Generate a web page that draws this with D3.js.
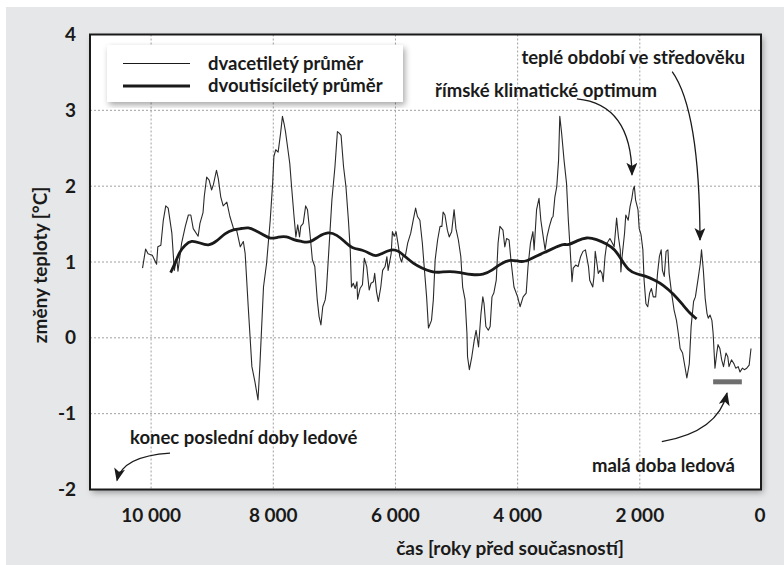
<!DOCTYPE html>
<html>
<head>
<meta charset="utf-8">
<script src="https://cdn.jsdelivr.net/npm/d3@7"></script>
<style>
body { margin: 0; background: #fff; }
text { font-family: Lato, "Open Sans", sans-serif; font-weight: 700; fill: #1a1a1a; }
</style>
</head>
<body>
<script>
// 20-year average (years before present, deg C)
var years20 = [10140,10090,10050,9980,9910,9890,9840,9800,9760,9720,9660,9620,9580,9560,9500,9440,9390,9350,9310,9230,
  9200,9150,9130,9090,9050,9010,8980,8930,8900,8860,8820,8760,8710,8650,8600,8540,8490,8460,8410,8350,
  8300,8250,8220,8160,8110,8050,8010,7990,7960,7920,7880,7850,7820,7800,7760,7730,7700,7660,7630,7600,
  7570,7550,7510,7470,7440,7400,7360,7320,7280,7250,7220,7190,7150,7130,7090,7040,6990,6950,6920,6890,
  6850,6810,6770,6740,6720,6690,6660,6630,6620,6580,6540,6510,6470,6430,6400,6360,6340,6310,6280,6240,
  6210,6170,6140,6120,6070,6050,6020,5990,5950,5930,5900,5870,5840,5800,5750,5710,5670,5640,5600,5560,
  5530,5490,5460,5410,5380,5350,5310,5270,5240,5220,5190,5150,5120,5080,5040,5010,4970,4930,4900,4860,
  4830,4820,4790,4750,4710,4680,4640,4600,4570,4550,4520,4480,4450,4420,4390,4350,4320,4290,4240,4210,
  4180,4140,4110,4060,4000,3960,3910,3860,3830,3790,3750,3730,3690,3650,3620,3590,3550,3520,3480,3440,
  3420,3390,3360,3330,3310,3280,3240,3200,3170,3140,3110,3090,3050,3010,2970,2930,2890,2840,2820,2770,
  2750,2730,2710,2680,2650,2620,2600,2570,2540,2520,2490,2450,2420,2380,2350,2320,2310,2290,2250,2230,
  2190,2160,2130,2110,2090,2070,2030,2010,1980,1950,1930,1900,1870,1840,1810,1780,1740,1710,1680,1650,
  1630,1600,1570,1540,1520,1480,1440,1400,1370,1340,1300,1270,1230,1190,1160,1120,1090,1040,1010,990,
  960,930,900,880,850,820,800,770,740,720,690,660,630,590,560,540,500,460,430,390,
  360,320,290,250,210,180];
var temp20 = [0.92,1.17,1.11,1.09,0.97,1.20,1.22,1.55,1.74,1.71,1.38,0.89,1.05,0.88,1.25,1.47,1.62,1.62,1.44,1.34,
  1.51,1.65,1.86,2.12,2.08,1.95,2.02,2.21,2.10,1.86,1.74,1.79,1.60,1.44,1.42,1.20,1.27,1.11,0.41,-0.38,
  -0.58,-0.82,-0.38,0.67,0.98,1.55,2.04,2.39,2.48,2.45,2.70,2.92,2.81,2.72,2.48,2.30,1.99,1.60,1.33,1.49,
  1.33,1.47,1.51,1.74,1.69,1.38,1.03,0.94,0.50,0.28,0.17,0.41,0.50,0.63,1.16,1.82,2.26,2.72,2.70,2.67,
  2.26,1.99,1.55,1.16,0.67,0.72,0.65,0.74,0.51,0.65,0.70,1.05,0.94,0.63,0.72,0.74,0.85,0.61,0.48,0.67,
  0.89,0.94,1.07,0.89,1.11,1.40,1.34,1.40,1.20,1.07,1.00,1.09,1.07,1.25,1.38,1.55,1.71,1.60,1.55,1.25,
  0.94,0.54,0.13,0.23,0.50,1.03,1.29,1.47,1.47,1.66,1.62,1.42,1.33,1.40,1.69,1.44,1.29,1.07,0.67,0.50,
  0.06,-0.25,-0.42,-0.25,-0.03,0.10,-0.12,0.32,0.54,0.45,0.15,0.10,0.15,0.54,0.59,0.76,1.25,1.47,1.42,1.20,
  1.31,1.29,1.03,0.67,0.54,0.41,0.54,0.59,0.94,1.25,1.40,1.16,1.69,1.84,1.55,1.38,1.16,1.33,1.47,1.58,
  1.60,1.86,1.99,2.34,2.92,2.70,2.34,2.04,1.55,1.16,0.74,0.92,0.96,0.94,1.07,1.14,1.16,0.94,0.76,0.67,
  0.81,1.14,1.03,0.85,0.89,0.85,0.74,1.07,1.25,1.27,1.31,1.25,1.20,1.58,1.33,1.16,0.87,1.07,1.38,1.62,
  1.55,1.73,1.84,1.95,2.00,1.82,1.69,1.44,1.36,1.16,0.76,0.45,0.41,0.59,0.65,0.54,0.54,0.85,1.07,1.16,
  0.89,0.81,1.14,1.16,0.85,0.59,0.37,0.23,0.06,-0.14,-0.20,-0.34,-0.53,-0.34,0.15,0.48,0.54,0.81,0.98,1.16,
  0.89,0.52,0.32,0.26,0.30,0.23,0.06,-0.40,-0.20,-0.09,-0.14,-0.29,-0.38,-0.20,-0.25,-0.38,-0.29,-0.34,-0.40,-0.38,
  -0.45,-0.40,-0.42,-0.40,-0.36,-0.14];

// 2000-year average
var years2000 = [9680,9610,9530,9450,9340,9200,9060,8930,8790,8650,8520,8410,8300,8160,8050,7920,7780,7670,7530,7400,
  7260,7100,6960,6830,6720,6530,6420,6320,6230,6070,5950,5840,5710,5570,5410,5300,5110,4940,4750,4560,
  4420,4290,4120,3960,3850,3690,3520,3360,3250,3170,3030,2870,2710,2540,2410,2300,2190,2050,1920,1750,
  1620,1450,1310,1180,1070];
var temp2000 = [0.86,0.98,1.14,1.22,1.29,1.25,1.21,1.27,1.38,1.43,1.44,1.46,1.42,1.36,1.30,1.33,1.34,1.29,1.27,1.25,
  1.34,1.40,1.36,1.27,1.18,1.16,1.11,1.07,1.11,1.17,1.15,1.07,0.98,0.92,0.87,0.86,0.88,0.86,0.83,0.83,
  0.89,0.97,1.04,1.00,1.01,1.08,1.14,1.20,1.24,1.22,1.28,1.33,1.30,1.24,1.17,1.03,0.89,0.84,0.82,0.76,
  0.70,0.58,0.45,0.32,0.25];

// little ice age bar
var iceAgeSpan = [800, 330];
var iceAgeLevel = -0.58;

var xTicks = [10000, 8000, 6000, 4000, 2000, 0];
var yTicks = [-2, -1, 0, 1, 2, 3, 4];

var seriesNames = ['dvacetiletý průměr', 'dvoutisíciletý průměr'];

// annotations: text + arrow (start, control, tip) in data units
var notes = [
  { text: 'teplé období ve středověku', tx: 745, ty: 64, anchor: 'end', arrow: [[1470, 3.51], [1020, 3.0], [1015, 1.29]] },
  { text: 'římské klimatické optimum', tx: 657, ty: 97, anchor: 'end', arrow: [[3030, 3.15], [2140, 3.08], [2128, 2.15]] },
  { text: 'konec poslední doby ledové', tx: 130, ty: 444, anchor: 'start', arrow: [[9690, -1.52], [10470, -1.56], [10558, -1.88]] },
  { text: 'malá doba ledová', tx: 735, ty: 472, anchor: 'end', arrow: [[1640, -1.37], [720, -1.24], [573, -0.73]] }
];

var width = 784, height = 565;
var svg = d3.select('body').append('svg').attr('width', width).attr('height', height);

var defs = svg.append('defs');
var shadow = defs.append('filter').attr('id', 'shadow').attr('x', '-5%').attr('y', '-5%').attr('width', '115%').attr('height', '115%');
shadow.append('feDropShadow').attr('dx', 2).attr('dy', 3).attr('stdDeviation', 3)
    .attr('flood-color', '#000').attr('flood-opacity', 0.35);
defs.append('marker')
    .attr('id', 'head')
    .attr('viewBox', '0 0 12 10')
    .attr('markerUnits', 'userSpaceOnUse')
    .attr('markerWidth', 15)
    .attr('markerHeight', 11)
    .attr('refX', 11)
    .attr('refY', 5)
    .attr('orient', 'auto')
    .append('path')
    .attr('d', 'M0,0 L12,5 L0,10 L3,5 Z')
    .attr('fill', '#1a1a1a');

svg.append('rect').attr('x', 6).attr('y', 7).attr('width', width - 6).attr('height', height - 7).attr('fill', '#e6e7e8');

var x = d3.scaleLinear().domain([11000, 0]).range([90, 762]);
var y = d3.scaleLinear().domain([-2, 4]).range([489.5, 34.5]);

svg.append('rect')
    .attr('x', x(11000)).attr('y', y(4))
    .attr('width', 761 - x(11000)).attr('height', y(-2) - y(4))
    .attr('fill', '#fff')
    .attr('filter', 'url(#shadow)');

// grid
svg.append('g').selectAll('line')
    .data(xTicks.filter(function(d) { return d > 0; }))
    .enter().append('line')
    .attr('x1', function(d) { return x(d); }).attr('x2', function(d) { return x(d); })
    .attr('y1', y(4)).attr('y2', y(-2))
    .attr('stroke', '#a0a0a0').attr('stroke-width', 1).attr('stroke-dasharray', '2,2');
svg.append('g').selectAll('line')
    .data(yTicks.filter(function(d) { return d > -2 && d < 4; }))
    .enter().append('line')
    .attr('x1', x(11000)).attr('x2', 761)
    .attr('y1', function(d) { return y(d); }).attr('y2', function(d) { return y(d); })
    .attr('stroke', '#a0a0a0').attr('stroke-width', 1).attr('stroke-dasharray', '2,2');

// data lines
var d20 = years20.map(function(v, i) { return [v, temp20[i]]; });
var d2000 = years2000.map(function(v, i) { return [v, temp2000[i]]; });
var line = d3.line().x(function(d) { return x(d[0]); }).y(function(d) { return y(d[1]); });

svg.append('path').datum(d20)
    .attr('d', line)
    .attr('fill', 'none').attr('stroke', '#2a2a2a').attr('stroke-width', 1.1).attr('stroke-linejoin', 'round');
svg.append('path').datum(d2000)
    .attr('d', line.curve(d3.curveBasis))
    .attr('fill', 'none').attr('stroke', '#1a1a1a').attr('stroke-width', 2.8).attr('stroke-linecap', 'butt');

svg.append('line')
    .attr('x1', x(iceAgeSpan[0])).attr('x2', x(iceAgeSpan[1]))
    .attr('y1', y(iceAgeLevel)).attr('y2', y(iceAgeLevel))
    .attr('stroke', '#6e6e6e').attr('stroke-width', 5);

// frame
svg.append('rect')
    .attr('x', x(11000)).attr('y', y(4))
    .attr('width', 761 - x(11000)).attr('height', y(-2) - y(4))
    .attr('fill', 'none').attr('stroke', '#1a1a1a').attr('stroke-width', 2);

// axes labels
var fmt = d3.formatLocale({ decimal: ',', thousands: '\u00a0', grouping: [3], currency: ['', ''] }).format(',d');
svg.append('g').selectAll('text')
    .data(xTicks).enter().append('text')
    .attr('x', function(d) { return x(d) - (d === 0 ? 2 : 0); })
    .attr('y', 522)
    .attr('text-anchor', 'middle')
    .style('font-size', '19px')
    .text(function(d) { return fmt(d); });
svg.append('g').selectAll('text')
    .data(yTicks).enter().append('text')
    .attr('x', 76)
    .attr('y', function(d) { return y(d) + 6.5; })
    .attr('text-anchor', 'end')
    .style('font-size', '19px')
    .text(function(d) { return d < 0 ? '-' + Math.abs(d) : d; });

svg.append('text')
    .attr('x', 510).attr('y', 555)
    .attr('text-anchor', 'middle')
    .style('font-size', '19px')
    .text('čas [roky před současností]');
svg.append('text')
    .attr('transform', 'translate(47,265) rotate(-90)')
    .attr('text-anchor', 'middle')
    .style('font-size', '19px')
    .text('změny teploty [°C]');

// legend
svg.append('rect')
    .attr('x', 107).attr('y', 45).attr('width', 296).attr('height', 57)
    .attr('fill', '#fff').attr('filter', 'url(#shadow)');
var legend = svg.append('g').selectAll('g')
    .data(seriesNames).enter().append('g')
    .attr('transform', function(d, i) { return 'translate(0,' + (63.5 + i * 22.5) + ')'; });
legend.append('line')
    .attr('x1', 123).attr('x2', 190).attr('y1', 0).attr('y2', 0)
    .attr('stroke', '#1a1a1a')
    .attr('stroke-width', function(d, i) { return i === 0 ? 1.1 : 2.8; });
legend.append('text')
    .attr('x', 208).attr('y', 6)
    .style('font-size', '18.5px')
    .text(function(d) { return d; });

// annotations
var ann = svg.append('g').selectAll('g').data(notes).enter().append('g');
ann.append('text')
    .attr('x', function(d) { return d.tx; })
    .attr('y', function(d) { return d.ty; })
    .attr('text-anchor', function(d) { return d.anchor; })
    .style('font-size', '18.5px')
    .text(function(d) { return d.text; });
ann.append('path')
    .attr('d', function(d) {
        var p = d.arrow.map(function(q) { return [x(q[0]), y(q[1])]; });
        return 'M' + p[0] + 'Q' + p[1] + ' ' + p[2];
    })
    .attr('fill', 'none').attr('stroke', '#1a1a1a').attr('stroke-width', 1.3)
    .attr('marker-end', 'url(#head)');
</script>
</body>
</html>
